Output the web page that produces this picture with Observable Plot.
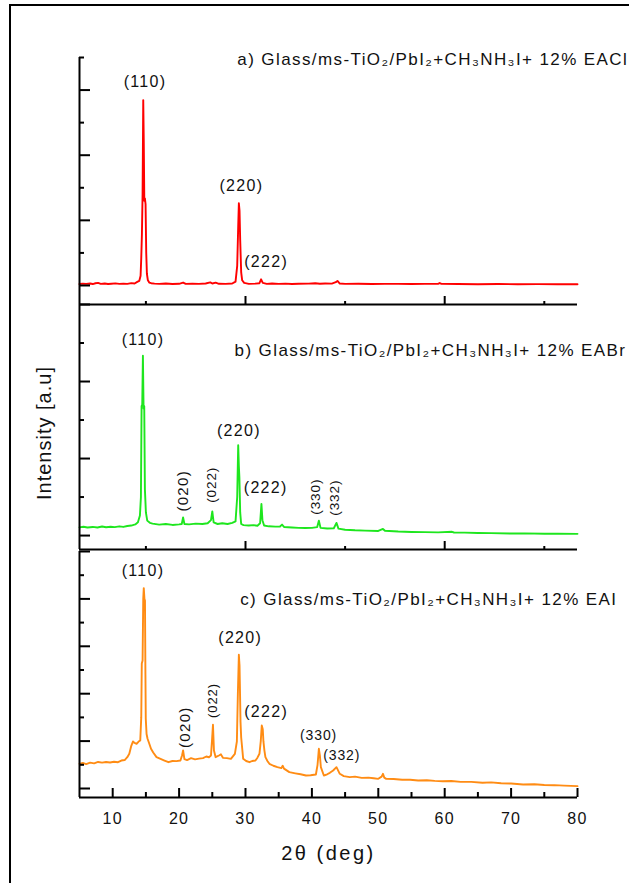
<!DOCTYPE html>
<html><head><meta charset="utf-8">
<script src="https://cdn.jsdelivr.net/npm/d3@7"></script>
<script src="https://cdn.jsdelivr.net/npm/@observablehq/plot@0.6"></script>
<style>
html,body{margin:0;padding:0;background:#fff;}
#root{position:relative;width:629px;height:883px;overflow:hidden;background:#fff;font-family:"Liberation Sans",Arial,sans-serif;}
#frame{position:absolute;left:9px;top:4px;width:700px;height:1000px;border:2px solid #000;box-sizing:border-box;}
.panel{position:absolute;left:0;}
</style></head>
<body><div id="root"><div id="frame"></div></div>
<script>
// ---- data: [2θ (deg), intensity (a.u.)] ----
const seriesEACl = [[5,22],[5.5,28],[6,24],[6.6,30],[7,22],[7.4,34],[7.8,40],[8.2,24],[8.8,30],[9.3,22],[9.8,26],[10.4,32],[11,24],[11.6,28],[12.2,24],[12.8,36],[13.3,30],[13.7,55],[14.0,70],[14.2,150],[14.3,420],[14.4,785],[14.5,1400],[14.6,2846],[14.68,2200],[14.76,1300],[14.85,1338],[14.95,1250],[15.05,500],[15.15,180],[15.3,80],[15.5,45],[15.8,35],[16.3,28],[17,24],[18,30],[19,22],[20,26],[20.6,45],[21,24],[22,28],[23,24],[24,30],[24.7,48],[25.0,30],[25.5,44],[26,26],[27,24],[28,30],[28.5,60],[28.75,300],[28.9,900],[29.0,1262],[29.1,1150],[29.2,700],[29.35,200],[29.5,80],[29.8,40],[30.5,25],[31.5,28],[32.1,35],[32.35,95],[32.6,40],[33.2,25],[34,30],[35,24],[36,28],[37,22],[38,26],[39.5,28],[40.5,34],[41.2,26],[42,30],[43,28],[43.6,50],[43.85,70],[44.2,30],[45,24],[47,26],[49,22],[51,24],[53,25],[55,22],[57,24],[59,24],[59.25,38],[59.5,24],[62,22],[65,20],[68,22],[71,20],[74,21],[77,20],[80,20]];
const seriesEABr = [[5,107],[5.6,115],[6.2,105],[7,112],[7.7,104],[8.4,118],[9,108],[9.7,114],[10.3,110],[11,120],[11.6,112],[12.2,124],[12.8,130],[13.4,145],[13.8,172],[14.1,260],[14.25,500],[14.35,1680],[14.45,1700],[14.55,2335],[14.65,1650],[14.75,1680],[14.85,600],[15.0,300],[15.2,194],[15.6,165],[16,155],[17,142],[18,150],[19,138],[20,145],[20.4,150],[20.6,236],[20.8,150],[21.5,145],[22.5,155],[23.5,150],[24.3,160],[24.8,200],[25.0,314],[25.2,170],[25.8,150],[26.5,160],[27.3,150],[28,165],[28.5,185],[28.75,500],[28.9,1172],[29.0,900],[29.08,753],[29.2,300],[29.35,150],[29.7,135],[30.5,130],[31.2,135],[31.8,128],[32.2,160],[32.4,410],[32.55,200],[32.8,130],[33.5,120],[34.5,116],[35.2,118],[35.5,142],[35.8,112],[37,105],[38,100],[39,98],[40,100],[40.8,110],[41.05,194],[41.3,100],[42.3,92],[43.3,95],[43.7,164],[44.0,90],[45,75],[46.5,68],[48,64],[50,60],[50.7,86],[51,62],[53,52],[55,47],[57,44],[59,42],[61.1,49],[61.4,40],[63,38],[65,34],[67,32],[70,26],[72,28],[75,24],[77,23],[80,22]];
const seriesEAI = [[5,521],[5.5,540],[6,515],[6.6,545],[7.2,530],[7.8,560],[8.4,545],[9,560],[9.6,548],[10.2,565],[10.8,555],[11.3,590],[11.8,600],[12.2,660],[12.5,732],[12.8,900],[13.05,992],[13.3,960],[13.6,943],[13.9,990],[14.15,1013],[14.3,1500],[14.38,2637],[14.5,2700],[14.6,4000],[14.68,4227],[14.78,4000],[14.86,3967],[14.93,2400],[14.98,1470],[15.1,1150],[15.25,1050],[15.5,950],[15.77,837],[16.1,760],[16.6,661],[17.2,626],[17.8,590],[18.4,555],[19.0,580],[19.6,577],[20.2,591],[20.45,700],[20.6,802],[20.8,620],[21.2,600],[21.8,640],[22.4,615],[23,630],[23.6,640],[24.1,675],[24.5,660],[24.8,696],[24.95,1000],[25.1,1344],[25.25,800],[25.5,661],[26,696],[26.3,720],[26.6,647],[27.2,640],[27.8,626],[28.4,732],[28.7,992],[28.85,2000],[29.0,2821],[29.1,2600],[29.15,2215],[29.25,1400],[29.35,1076],[29.65,626],[30.1,580],[30.6,555],[31.0,580],[31.5,591],[31.8,650],[32.1,732],[32.3,1000],[32.45,1329],[32.6,1250],[32.7,992],[32.85,800],[33.0,661],[33.3,580],[33.6,521],[34.2,480],[34.8,450],[35.4,429],[35.6,480],[35.8,420],[36.6,345],[37.5,320],[38.3,300],[39.1,274],[39.8,280],[40.6,295],[40.85,500],[41.05,837],[41.2,700],[41.35,450],[41.8,274],[42.3,300],[42.7,331],[43.2,380],[43.7,450],[44.2,310],[44.8,260],[45.7,239],[46.5,250],[47.5,225],[48.5,230],[49.3,215],[50.0,204],[50.5,250],[50.7,310],[50.9,230],[51.2,204],[52.3,200],[53.6,183],[54.8,185],[56,170],[57.3,175],[58.5,160],[59.7,154],[61,158],[62.4,140],[64,140],[65.7,120],[67,130],[68.5,110],[70,105],[71.8,84],[73.5,90],[75,75],[76.5,70],[78,60],[80,49]];

// ---- axis ticks ----
const xTickLabels = [10, 20, 30, 40, 50, 60, 70, 80];
const xMinorBottom = [15, 25, 35, 45, 55, 65, 75];
const xMajorInner = [30, 60];
const xMinorInner = [15, 45, 75];
const yMajorA = [0, 1000, 2000, 3000], yMinorA = [500, 1500, 2500, 3500];
const yMajorB = [0, 1000, 2000, 3000], yMinorB = [500, 1500, 2500];
const yMajorC = [0, 1000, 2000, 3000, 4000, 5000], yMinorC = [500, 1500, 2500, 3500, 4500];

// ---- annotations ----
const titleA = [{label: "a) Glass/ms-TiO₂/PbI₂+CH₃NH₃I+ 12% EACl", x: 28.77, y: 3471}];
const titleB = [{label: "b) Glass/ms-TiO₂/PbI₂+CH₃NH₃I+ 12% EABr", x: 28.35, y: 2399}];
const titleC = [{label: "c) Glass/ms-TiO₂/PbI₂+CH₃NH₃I+ 12% EAI", x: 29.2, y: 3981}];
const peaksA = [{label: "(110)", x: 14.86, y: 3127}, {label: "(220)", x: 29.38, y: 1528}, {label: "(222)", x: 33.1, y: 369}];
const peaksB = [{label: "(110)", x: 14.57, y: 2545}, {label: "(220)", x: 29.0, y: 1357}, {label: "(222)", x: 33.04, y: 620}];
const rotBigB = [{label: "(020)", x: 20.67, y: 581}];
const rotSmallB = [{label: "(022)", x: 24.98, y: 659}, {label: "(330)", x: 40.6, y: 504}, {label: "(332)", x: 43.45, y: 491}];
const peaksC = [{label: "(110)", x: 14.56, y: 4585}, {label: "(220)", x: 29.2, y: 3172}, {label: "(222)", x: 33.1, y: 1625}];
const rotBigC = [{label: "(020)", x: 20.9, y: 1294}];
const rotSmallC = [{label: "(022)", x: 25.14, y: 1857}];
const flatSmallC = [{label: "(330)", x: 41.0, y: 1118}, {label: "(332)", x: 44.5, y: 696}];
const xTitle = ["2θ (deg)"];
const yTitle = ["Intensity [a.u]"];

// letter spacing (px) per text group
const SPACING = {title: 1.4, peak: 1.3, "peak-small": 0.9, xtitle: 2.5, ytitle: 1.0, ticklabel: 1.3};

const root = document.getElementById("root");
const X_DOMAIN = [5, 80];
const INK = "#111";

function spaced(name) {
  return {
    ariaLabel: name,
    render(index, scales, values, dims, ctx, next) {
      const g = next(index, scales, values, dims, ctx);
      if (g) g.setAttribute("letter-spacing", SPACING[name] + "px");
      return g;
    }
  };
}

function panel({series, color, yDomain, yMajor, yMinor, top, bottom, bottomAxis, extra}) {
  const mt = 6, mb = bottomAxis ? 80 : 4;
  const data = series.map(([x, y]) => ({x, y}));
  const blank = () => "";
  const marks = [
    Plot.line(data, {x: "x", y: "y", stroke: color, strokeWidth: 1.9, strokeLinejoin: "round"}),
    Plot.ruleX([X_DOMAIN[0]], {stroke: "#000", strokeWidth: 2}),
    Plot.ruleY([yDomain[0]], {stroke: "#000", strokeWidth: 2}),
    Plot.axisY(yMajor, {tickSize: 11, dx: 11, tickFormat: blank, label: null, strokeWidth: 2, stroke: "#000"}),
    Plot.axisY(yMinor, {tickSize: 5, dx: 5, tickFormat: blank, label: null, strokeWidth: 2, stroke: "#000"})
  ];
  if (bottomAxis) {
    marks.push(
      Plot.axisX(xTickLabels, {tickSize: 9, dy: -9, tickFormat: blank, label: null, strokeWidth: 2, stroke: "#000"}),
      Plot.axisX(xMinorBottom, {tickSize: 5, dy: -5, tickFormat: blank, label: null, strokeWidth: 2, stroke: "#000"}),
      Plot.text(xTickLabels, {x: d => d, text: d => String(d), frameAnchor: "bottom", lineAnchor: "middle", textAnchor: "middle", dy: 21, fontSize: 16, fill: INK, ...spaced("ticklabel")}),
      Plot.text(xTitle, {text: d => d, frameAnchor: "bottom", textAnchor: "middle", lineAnchor: "middle", dy: 56, fontSize: 20, fill: INK, ...spaced("xtitle")})
    );
  } else {
    marks.push(
      Plot.axisX(xMajorInner, {tickSize: 8, dy: -8, tickFormat: blank, label: null, strokeWidth: 2, stroke: "#000"}),
      Plot.axisX(xMinorInner, {tickSize: 3, dy: -3, tickFormat: blank, label: null, strokeWidth: 2, stroke: "#000"})
    );
  }
  marks.push(...extra);
  const svg = Plot.plot({
    width: 629,
    height: mt + (bottom - top) + mb,
    marginLeft: 79, marginRight: 52, marginTop: mt, marginBottom: mb,
    x: {domain: X_DOMAIN},
    y: {domain: yDomain},
    style: {fontFamily: "'Liberation Sans', Arial, sans-serif", fontSize: "15px", background: "transparent", overflow: "visible", color: "#000"},
    marks
  });
  // fallback in case the render hook is unavailable
  for (const name of Object.keys(SPACING)) {
    svg.querySelectorAll(`g[aria-label="${name}"]`).forEach(g => {
      g.setAttribute("letter-spacing", SPACING[name] + "px");
      g.querySelectorAll("text").forEach(t => t.style.letterSpacing = SPACING[name] + "px");
    });
  }
  const div = document.createElement("div");
  div.className = "panel";
  div.style.top = (top - mt) + "px";
  div.appendChild(svg);
  root.appendChild(div);
}

const T = (arr, name, opts) => Plot.text(arr, {x: "x", y: "y", text: "label", fill: INK, ...opts, ...spaced(name)});

panel({
  series: seriesEACl, color: "#ff0000", yDomain: [-292, 3500], yMajor: yMajorA, yMinor: yMinorA,
  top: 57, bottom: 304, bottomAxis: false,
  extra: [
    T(titleA, "title", {textAnchor: "start", fontSize: 17}),
    T(peaksA, "peak", {fontSize: 16})
  ]
});
panel({
  series: seriesEABr, color: "#1ee61e", yDomain: [-181, 3000], yMajor: yMajorB, yMinor: yMinorB,
  top: 304, bottom: 549, bottomAxis: false,
  extra: [
    T(titleB, "title", {textAnchor: "start", fontSize: 17}),
    T(peaksB, "peak", {fontSize: 16}),
    T(rotBigB, "peak", {fontSize: 15, rotate: -90}),
    T(rotSmallB, "peak-small", {fontSize: 13.5, rotate: -90}),
    Plot.text(yTitle, {text: d => d, frameAnchor: "left", textAnchor: "middle", lineAnchor: "middle", dx: -35, dy: 6, rotate: -90, fontSize: 20, fill: INK, ...spaced("ytitle")})
  ]
});
panel({
  series: seriesEAI, color: "#ff8c14", yDomain: [-190, 5000], yMajor: yMajorC, yMinor: yMinorC,
  top: 551, bottom: 797, bottomAxis: true,
  extra: [
    T(titleC, "title", {textAnchor: "start", fontSize: 17}),
    T(peaksC, "peak", {fontSize: 16}),
    T(rotBigC, "peak", {fontSize: 15, rotate: -90}),
    T(rotSmallC, "peak-small", {fontSize: 13, rotate: -90}),
    T(flatSmallC, "peak-small", {fontSize: 14})
  ]
});
</script>
</body></html>
